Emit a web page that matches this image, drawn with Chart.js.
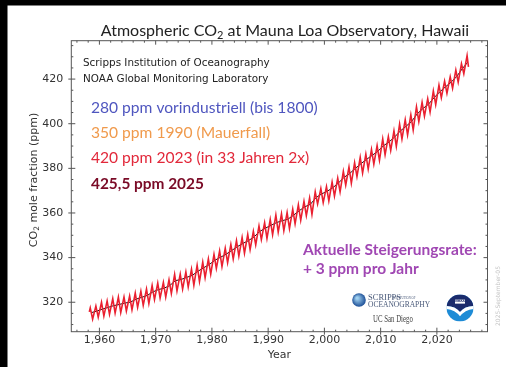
<!DOCTYPE html>
<html>
<head>
<meta charset="utf-8">
<script src="https://cdn.jsdelivr.net/npm/chart.js"></script>
<style>
  html, body { margin: 0; padding: 0; background: #fff; }
  #wrap { width: 506px; height: 367px; }
</style>
</head>
<body>
<div id="wrap"><canvas id="co2"></canvas></div>
<script>
// Mauna Loa CO2 (ppm): yearly spring maximum, autumn minimum and yearly mean
var years = [1958, 1959, 1960, 1961, 1962, 1963, 1964, 1965, 1966, 1967,
  1968, 1969, 1970, 1971, 1972, 1973, 1974, 1975, 1976, 1977,
  1978, 1979, 1980, 1981, 1982, 1983, 1984, 1985, 1986, 1987,
  1988, 1989, 1990, 1991, 1992, 1993, 1994, 1995, 1996, 1997,
  1998, 1999, 2000, 2001, 2002, 2003, 2004, 2005, 2006, 2007,
  2008, 2009, 2010, 2011, 2012, 2013, 2014, 2015, 2016, 2017,
  2018, 2019, 2020, 2021, 2022, 2023, 2024, 2025];
var springMax = [317.5, 318.3, 320.0, 320.6, 321.6, 322.3, 322.3, 322.8, 324.1, 325.0,
  325.9, 327.5, 328.6, 328.9, 330.1, 332.5, 332.6, 333.6, 334.8, 336.6,
  338.0, 339.4, 341.5, 343.0, 344.2, 345.9, 347.6, 349.0, 350.4, 351.8,
  354.2, 355.6, 357.1, 359.1, 359.6, 360.2, 361.7, 363.7, 365.2, 366.7,
  369.5, 370.9, 371.8, 373.9, 375.6, 378.6, 380.6, 382.5, 384.9, 386.4,
  388.5, 390.2, 393.2, 394.2, 396.8, 399.8, 401.8, 404.0, 407.6, 409.6,
  411.2, 414.7, 417.3, 419.1, 421.0, 424.0, 426.9, 430.5];
var autumnMin = [312.4, 313.3, 313.8, 314.6, 315.1, 315.4, 316.1, 316.6, 317.7, 318.6,
  319.4, 321.2, 321.9, 322.3, 323.9, 325.1, 325.9, 326.8, 327.6, 329.3,
  331.0, 332.6, 335.2, 336.0, 337.7, 339.4, 340.7, 342.0, 343.6, 345.7,
  348.1, 348.6, 350.3, 351.4, 352.1, 353.0, 355.1, 356.7, 358.8, 359.4,
  364.0, 364.6, 365.4, 367.6, 369.5, 372.5, 373.3, 376.3, 377.9, 379.7,
  381.9, 383.6, 386.1, 388.0, 389.9, 393.1, 395.0, 397.2, 401.0, 403.4,
  405.2, 408.5, 411.6, 413.6, 415.9, 418.6, 422.4, null];
var yearMean = [315.3, 315.98, 316.91, 317.64, 318.45, 318.99, 319.62, 320.04, 321.37, 322.18,
  323.05, 324.62, 325.68, 326.32, 327.46, 329.68, 330.19, 331.13, 332.03, 333.84,
  335.41, 336.84, 338.76, 340.12, 341.48, 343.15, 344.87, 346.35, 347.61, 349.31,
  351.69, 353.20, 354.45, 355.70, 356.54, 357.21, 358.96, 360.97, 362.74, 363.88,
  366.84, 368.54, 369.71, 371.32, 373.45, 375.98, 377.70, 379.98, 382.09, 384.02,
  385.83, 387.64, 390.10, 391.85, 394.06, 396.74, 398.81, 401.01, 404.41, 406.76,
  408.72, 411.66, 414.24, 416.45, 418.56, 421.08, 424.61, 427.6];
var firstObs = { date: 1958.2, ppm: 315.7 };   // March 1958
var lastObs = { date: 2025.62, ppm: 425.5 };   // August 2025

var xTicks = [1960, 1970, 1980, 1990, 2000, 2010, 2020];
var yTicks = [320, 340, 360, 380, 400, 420];

var notes = [
  { text: 'Scripps Institution of Oceanography', color: '#222' },
  { text: 'NOAA Global Monitoring Laboratory', color: '#222' },
  { text: '280 ppm vorindustriell (bis 1800)', color: '#4f56bf' },
  { text: '350 ppm 1990 (Mauerfall)', color: '#f09a4c' },
  { text: '420 ppm 2023 (in 33 Jahren 2x)', color: '#e2283a' },
  { text: '425,5 ppm 2025', color: '#7a0a26' },
  { text: 'Aktuelle Steigerungsrate:', color: '#a047b3' },
  { text: '+ 3 ppm pro Jahr', color: '#a047b3' }
];

// monthly curve reduced to its seasonal turning points
var seasonal = [{ x: firstObs.date, y: firstObs.ppm }];
var trend = [];
years.forEach(function (yr, i) {
  seasonal.push({ x: yr + 0.37, y: springMax[i] });
  if (autumnMin[i] != null) seasonal.push({ x: yr + 0.79, y: autumnMin[i] });
  trend.push({ x: yr + 0.5, y: yearMean[i] });
});
seasonal.push({ x: lastObs.date, y: lastObs.ppm });

var tickFont = { family: 'DejaVu Sans', size: 11 };

function textRun(ctx, parts, x, y) {
  parts.forEach(function (p) {
    ctx.font = p.font;
    ctx.fillText(p.t, x, y + (p.dy || 0));
    x += ctx.measureText(p.t).width;
  });
}

function widthOf(ctx, parts) {
  var w = 0;
  parts.forEach(function (p) { ctx.font = p.font; w += ctx.measureText(p.t).width; });
  return w;
}

function noaaLogo(ctx, cx, cy, r) {
  ctx.save();
  ctx.beginPath();
  ctx.arc(cx, cy, r, 0, Math.PI * 2);
  ctx.clip();
  ctx.fillStyle = '#1d8bd6';
  ctx.fillRect(cx - r, cy - r, 2 * r, 2 * r);
  ctx.fillStyle = '#1b2b6c';
  ctx.beginPath();
  ctx.moveTo(cx - r, cy - r);
  ctx.lineTo(cx + r, cy - r);
  ctx.lineTo(cx + r, cy - 2);
  ctx.quadraticCurveTo(cx + r * 0.35, cy - r * 0.15, cx, cy + r * 0.3);
  ctx.quadraticCurveTo(cx - r * 0.35, cy - r * 0.15, cx - r, cy - 2);
  ctx.closePath();
  ctx.fill();
  ctx.fillStyle = '#fff';
  ctx.beginPath();
  ctx.moveTo(cx - r, cy - 2);
  ctx.quadraticCurveTo(cx - r * 0.35, cy - r * 0.15, cx, cy + r * 0.3);
  ctx.quadraticCurveTo(cx + r * 0.35, cy - r * 0.15, cx + r, cy - 2);
  ctx.lineTo(cx + r, cy + 1);
  ctx.quadraticCurveTo(cx + r * 0.35, cy + r * 0.15, cx, cy + r * 0.62);
  ctx.quadraticCurveTo(cx - r * 0.35, cy + r * 0.15, cx - r, cy + 1);
  ctx.closePath();
  ctx.fill();
  ctx.restore();
  ctx.fillStyle = '#fff';
  ctx.fillRect(cx - 5, cy - r * 0.62, 10, 4);
  ctx.fillStyle = '#1b2b6c';
  ctx.font = 'bold 3px DejaVu Sans';
  ctx.textAlign = 'center';
  ctx.fillText('NOAA', cx, cy - r * 0.62 + 2);
  ctx.textAlign = 'left';
}

var decor = {
  id: 'decor',
  beforeDraw: function (chart) {
    var ctx = chart.ctx;
    ctx.save();
    ctx.fillStyle = '#fff';
    ctx.fillRect(0, 0, chart.width, chart.height);
    ctx.fillStyle = '#000';
    ctx.fillRect(0, 0, chart.width, 5.5);
    ctx.fillRect(0, 0, 7.5, chart.height);
    ctx.restore();
  },
  afterDraw: function (chart) {
    var ctx = chart.ctx, a = chart.chartArea;
    var xs = chart.scales.x, ys = chart.scales.y;
    ctx.save();

    // frame and inward ticks
    ctx.strokeStyle = '#555';
    ctx.lineWidth = 1;
    ctx.strokeRect(a.left, a.top, a.right - a.left, a.bottom - a.top);
    ctx.beginPath();
    for (var yr = 1956; yr <= 2028; yr += 2) {
      var px = xs.getPixelForValue(yr), major = yr % 10 === 0;
      var len = major ? 4 : 2;
      ctx.moveTo(px, a.bottom + (major ? 3 : 0)); ctx.lineTo(px, a.bottom - len);
      ctx.moveTo(px, a.top); ctx.lineTo(px, a.top + len);
    }
    for (var v = 310; v <= 435; v += 5) {
      var py = ys.getPixelForValue(v), maj = v % 20 === 0;
      var l = maj ? 4 : 2;
      ctx.moveTo(a.left - (maj ? 3 : 0), py); ctx.lineTo(a.left + l, py);
      ctx.moveTo(a.right, py); ctx.lineTo(a.right - l, py);
    }
    ctx.stroke();

    ctx.textBaseline = 'middle';

    // title
    ctx.fillStyle = '#222';
    var tParts = [
      { t: 'Atmospheric CO', font: '16px Lato' },
      { t: '2', font: '11px Lato', dy: 4 },
      { t: ' at Mauna Loa Observatory, Hawaii', font: '16px Lato' }
    ];
    textRun(ctx, tParts, 285 - widthOf(ctx, tParts) / 2, 31);

    // y axis title
    ctx.save();
    ctx.translate(34, 180);
    ctx.rotate(-Math.PI / 2);
    ctx.fillStyle = '#333';
    var yParts = [
      { t: 'CO', font: '11px DejaVu Sans' },
      { t: '2', font: '7.5px DejaVu Sans', dy: 3 },
      { t: ' mole fraction (ppm)', font: '11px DejaVu Sans' }
    ];
    textRun(ctx, yParts, -widthOf(ctx, yParts) / 2, 0);
    ctx.restore();

    // notes
    var spots = [
      { x: 83, y: 63, font: '10.4px DejaVu Sans' },
      { x: 83, y: 79, font: '10.4px DejaVu Sans' },
      { x: 91, y: 108, font: '15.6px Lato' },
      { x: 91, y: 133, font: '15.6px Lato' },
      { x: 91, y: 158, font: '15.6px Lato' },
      { x: 91, y: 184, font: 'bold 15.4px Lato' },
      { x: 303, y: 250, font: 'bold 15.5px Lato' },
      { x: 303, y: 269, font: 'bold 15.5px Lato' }
    ];
    notes.forEach(function (n, i) {
      ctx.font = spots[i].font;
      ctx.fillStyle = n.color;
      ctx.fillText(n.text, spots[i].x, spots[i].y);
    });

    // Scripps / UC San Diego logo
    var g = ctx.createRadialGradient(357, 298, 1, 359, 300, 7);
    g.addColorStop(0, '#9fd0f0');
    g.addColorStop(1, '#1a4c95');
    ctx.fillStyle = g;
    ctx.beginPath();
    ctx.arc(359, 300, 6.8, 0, Math.PI * 2);
    ctx.fill();
    ctx.fillStyle = '#4a5a7a';
    ctx.font = '8.5px Liberation Serif';
    ctx.fillText('SCRIPPS', 368, 298);
    ctx.font = '3px Liberation Serif';
    ctx.fillText('INSTITUTION OF', 392, 298.5);
    ctx.font = '7.5px Liberation Serif';
    ctx.fillText('OCEANOGRAPHY', 368, 305);
    ctx.save();
    ctx.translate(373, 319);
    ctx.scale(0.72, 1);
    ctx.fillStyle = '#444';
    ctx.font = '9.5px Liberation Serif';
    ctx.fillText('UC San Diego', 0, 0);
    ctx.restore();

    noaaLogo(ctx, 460, 308, 13.5);

    // date stamp
    ctx.save();
    ctx.translate(498, 296);
    ctx.rotate(-Math.PI / 2);
    ctx.fillStyle = '#c4c4c4';
    ctx.font = '6px DejaVu Sans';
    ctx.textAlign = 'center';
    ctx.fillText('2025-September-05', 0, 0);
    ctx.restore();

    ctx.restore();
  }
};

new Chart(document.getElementById('co2'), {
  type: 'line',
  data: {
    datasets: [
      {
        data: seasonal,
        borderColor: '#ea2030',
        borderWidth: 1.6,
        pointRadius: 0,
        tension: 0
      },
      {
        data: trend,
        borderColor: '#151515',
        borderWidth: 1,
        pointRadius: 0,
        tension: 0
      }
    ]
  },
  options: {
    responsive: true,
    maintainAspectRatio: false,
    animation: false,
    layout: { padding: { left: 0, right: 18.5, top: 40.7, bottom: 0 } },
    plugins: {
      legend: { display: false },
      title: { display: false },
      tooltip: { enabled: false }
    },
    scales: {
      x: {
        type: 'linear',
        min: 1955,
        max: 2029,
        afterBuildTicks: function (s) { s.ticks = xTicks.map(function (v) { return { value: v }; }); },
        afterFit: function (s) { s.height = 35.3; },
        grid: { display: false, drawTicks: false },
        border: { display: false },
        ticks: { font: tickFont, color: '#333', padding: 2, maxRotation: 0 },
        title: {
          display: true,
          text: 'Year',
          font: tickFont,
          color: '#333',
          padding: { top: 0, bottom: 5.4 }
        }
      },
      y: {
        min: 306.8,
        max: 437.2,
        afterBuildTicks: function (s) { s.ticks = yTicks.map(function (v) { return { value: v }; }); },
        afterFit: function (s) { s.width = 71.3; },
        grid: { display: false, drawTicks: false },
        border: { display: false },
        ticks: { font: tickFont, color: '#333', padding: 8 }
      }
    }
  },
  plugins: [decor]
});
</script>
</body>
</html>
